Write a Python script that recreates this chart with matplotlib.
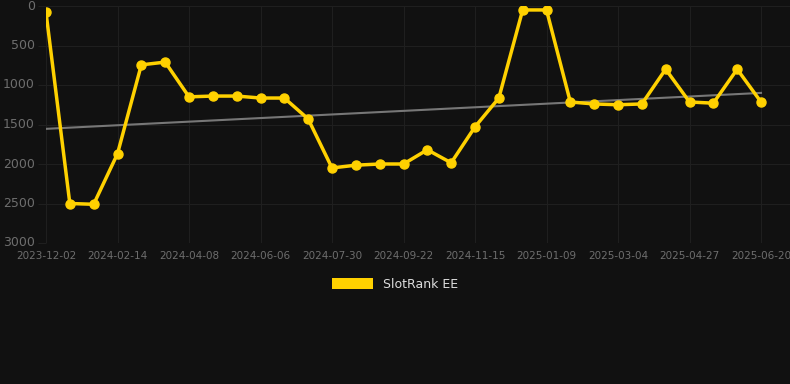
import numpy as np
import matplotlib
matplotlib.use("Agg")
import matplotlib.pyplot as plt
from matplotlib.patches import Patch

# rank values, one per observation (lower is better, axis inverted)
ranks = [80, 2500, 2510, 1870, 745, 710, 1150, 1140, 1140, 1165, 1165,
         1430, 2050, 2015, 2000, 2000, 1820, 1985, 1530, 1165, 50, 50,
         1215, 1240, 1250, 1240, 800, 1215, 1230, 800, 1215]
tick_dates = ["2023-12-02", "2024-02-14", "2024-04-08", "2024-06-06",
              "2024-07-30", "2024-09-22", "2024-11-15", "2025-01-09",
              "2025-03-04", "2025-04-27", "2025-06-20"]
trend_ends = [1555, 1100]

bg = "#111111"
yellow = "#ffd100"
grid_c = "#1f1f1f"
tick_c = "#6e6e6e"

fig = plt.figure(figsize=(7.9, 3.84), dpi=100, facecolor=bg)
ax = fig.add_axes([46 / 790, 1 - 243 / 384, 744 / 790, 237 / 384])
ax.set_facecolor(bg)

x = np.arange(len(ranks))
ax.plot([x[0], x[-1]], trend_ends, color="#777777", lw=1.5, zorder=2)
ax.plot(x, ranks, color=yellow, lw=2.5, marker="o", ms=6.5,
        markerfacecolor=yellow, markeredgecolor=yellow, zorder=3)

ax.set_ylim(3000, 0)
ax.set_yticks([0, 500, 1000, 1500, 2000, 2500, 3000])
ax.set_xlim(0, (790 - 46) / ((761 - 46) / 30))
ax.set_xticks(x[::3])
ax.set_xticklabels(tick_dates)

ax.grid(True, color=grid_c, lw=0.8)
ax.set_axisbelow(True)
for s in ax.spines.values():
    s.set_visible(False)
ax.tick_params(axis="y", colors=tick_c, labelsize=9, length=6, width=0.8,
               color=grid_c, pad=2)
ax.tick_params(axis="x", colors=tick_c, labelsize=7.5, length=0, pad=6)
for lab in ax.get_yticklabels():
    lab.set_verticalalignment("center")

leg = fig.legend(handles=[Patch(facecolor=yellow, label="SlotRank EE")],
                 loc="center", bbox_to_anchor=(0.5, 1 - 284 / 384),
                 frameon=False, handlelength=3.3, handleheight=1.0,
                 fontsize=9)
for t in leg.get_texts():
    t.set_color("#dddddd")

fig.savefig("out.png", dpi=100, facecolor=bg)
